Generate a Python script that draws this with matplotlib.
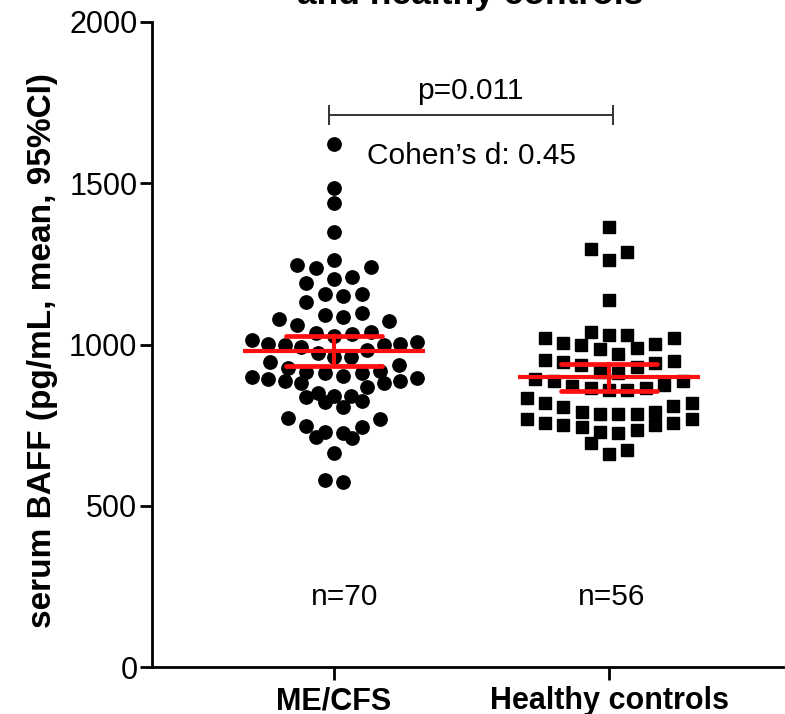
import numpy as np
import matplotlib
matplotlib.use('Agg')
import matplotlib.pyplot as plt

plt.rcParams['font.family'] = ['Liberation Sans', 'DejaVu Sans']

# serum BAFF (pg/mL) per subject
mecfs = [575, 580, 663, 709, 714, 725, 730, 745, 747, 768, 771, 805, 823, 826,
         836, 840, 840, 849, 869, 882, 882, 888, 888, 892, 895, 898, 902, 913,
         913, 915, 919, 926, 936, 947, 960, 962, 975, 983, 993, 998, 998, 1001,
         1001, 1009, 1014, 1026, 1032, 1035, 1040, 1060, 1074, 1078, 1085, 1091,
         1097, 1133, 1151, 1157, 1157, 1190, 1202, 1210, 1236, 1241, 1246, 1262,
         1348, 1438, 1484, 1622]
controls = [660, 674, 694, 725, 729, 734, 745, 750, 750, 758, 758, 768, 769,
            783, 784, 784, 792, 792, 805, 809, 818, 818, 833, 859, 859, 864, 864,
            871, 874, 888, 888, 892, 912, 916, 931, 936, 944, 947, 948, 953, 972,
            985, 990, 998, 1002, 1006, 1019, 1019, 1029, 1029, 1040, 1138, 1262,
            1288, 1295, 1365]

groups = ['ME/CFS', 'Healthy controls']
n_labels = ['n=70', 'n=56']
t_crit = [1.995, 2.004]   # t(0.975) for df 69 and 55
p_text = 'p=0.011'
d_text = 'Cohen\u2019s d: 0.45'
title_text = 'and healthy controls'


# graphpad style scatter: rows binned by value, spread from the centre out
def swarm_offsets(values, bin_w=60, step=0.067, max_half=0.3):
    v = np.asarray(values, float)
    order = np.argsort(v, kind='stable')
    bins = np.floor(v / bin_w).astype(int)
    x = np.zeros(len(v))
    for b in np.unique(bins):
        idx = [i for i in order if bins[i] == b]
        n = len(idx)
        sp = step if n < 2 else min(step, max_half / ((n - 1) / 2))
        for k, i in enumerate(idx):
            if n % 2:
                slot = (k + 1) // 2 * (1 if k % 2 else -1)
            else:
                slot = (k // 2 + 0.5) * (1 if k % 2 == 0 else -1)
            x[i] = slot * sp
    return x


fig = plt.figure(figsize=(7.85, 7.14), dpi=100)
ax = fig.add_axes([0.1936, 0.0658, 0.804, 0.9034])

markers = ['o', 's']
msizes = [9.6, 9.0]
red = '#ff1010'
for i, vals in enumerate([mecfs, controls]):
    xs = i + swarm_offsets(vals)
    ax.plot(xs, vals, linestyle='none', marker=markers[i], ms=msizes[i],
            color='black', mec='black', zorder=2)

    # mean with 95% CI
    arr = np.asarray(vals, float)
    m = arr.mean()
    half = t_crit[i] * arr.std(ddof=1) / np.sqrt(len(arr))
    ax.plot([i - 0.33, i + 0.33], [m, m], color=red, lw=3.0, zorder=3,
            solid_capstyle='butt')
    ax.plot([i, i], [m - half, m + half], color=red, lw=3.0, zorder=3)
    for yy in (m - half, m + half):
        ax.plot([i - 0.173, i + 0.173], [yy, yy], color=red, lw=3.4,
                zorder=3, solid_capstyle='round')

# significance bracket
ax.plot([-0.018, 1.015], [1712, 1712], color='#333333', lw=1.4)
for xx in (-0.018, 1.015):
    ax.plot([xx, xx], [1683, 1741], color='#333333', lw=1.4)
ax.text(0.495, 1786, p_text, ha='center', va='center', fontsize=21.5)
ax.text(0.50, 1584, d_text, ha='center', va='center', fontsize=21.5)

ax.text(0.04, 217, n_labels[0], ha='center', va='center', fontsize=21.5)
ax.text(1.01, 217, n_labels[1], ha='center', va='center', fontsize=21.5)

ax.set_xlim(-0.662, 1.633)
ax.set_ylim(0, 2000)
ax.set_yticks([0, 500, 1000, 1500, 2000])
ax.set_xticks([0, 1])
ax.set_xticklabels(groups, fontsize=22, fontweight='bold')
ax.tick_params(axis='y', labelsize=22, length=9, width=2, pad=1.5)
ax.tick_params(axis='x', length=9, width=2, pad=5)
for s in ['top', 'right']:
    ax.spines[s].set_visible(False)
for s in ['left', 'bottom']:
    ax.spines[s].set_linewidth(2)
ax.set_ylabel('serum BAFF (pg/mL, mean, 95%CI)', fontsize=24,
              fontweight='bold')
ax.yaxis.set_label_coords(-0.149, 0.49)

fig.text(0.599, 1 - 4 / 714, title_text, ha='center', va='baseline',
         fontsize=25.5, fontweight='bold')

fig.savefig('out.png', dpi=100)
